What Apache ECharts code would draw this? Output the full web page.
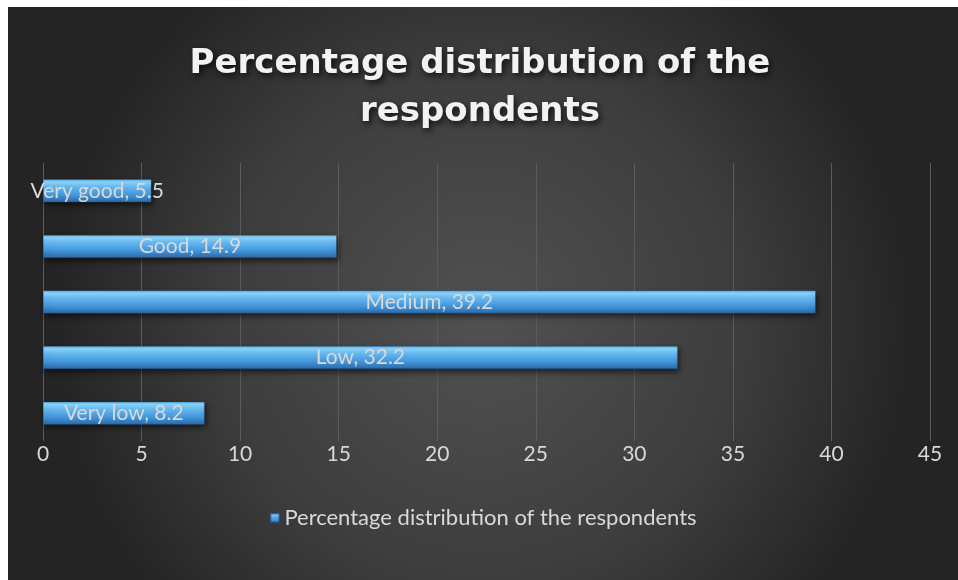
<!DOCTYPE html>
<html>
<head>
<meta charset="utf-8">
<script src="https://cdn.jsdelivr.net/npm/echarts@6/dist/echarts.min.js"></script>
<style>
  html, body { margin: 0; padding: 0; background: #ffffff; width: 958px; height: 580px; overflow: hidden; }
  #chart { position: absolute; left: 8px; top: 7px; width: 950px; height: 573px; }
</style>
</head>
<body>
<div id="chart"></div>
<script>
// Rating categories, listed bottom to top
const categories = ['Very low', 'Low', 'Medium', 'Good', 'Very good'];
// Share of respondents in each category, %
const shares = [8.2, 32.2, 39.2, 14.9, 5.5];
// Value axis ticks
const axisMin = 0;
const axisMax = 45;
const axisStep = 5;

const seriesName = 'Percentage distribution of the respondents';
const titleText = 'Percentage distribution of the\nrespondents';
const textFont = 'Lato, "Open Sans", sans-serif';
const titleFont = '"DejaVu Sans", "Open Sans", sans-serif';

const barFill = {
  type: 'linear', x: 0, y: 0, x2: 0, y2: 1,
  colorStops: [
    { offset: 0, color: '#5aaee8' },
    { offset: 0.12, color: '#8dd6fb' },
    { offset: 0.35, color: '#62b6f0' },
    { offset: 0.7, color: '#4193d8' },
    { offset: 1, color: '#2b68a6' }
  ]
};

const chart = echarts.init(document.getElementById('chart'));
const chartWidth = chart.getWidth();

chart.setOption({
  backgroundColor: {
    type: 'radial', x: 0.5, y: 0.55, r: 0.75,
    colorStops: [
      { offset: 0, color: '#515151' },
      { offset: 0.6, color: '#3d3d3d' },
      { offset: 1, color: '#242424' }
    ]
  },
  graphic: [{
    type: 'text',
    x: chartWidth / 2 - 3,
    y: 33,
    style: {
      text: titleText,
      align: 'center',
      verticalAlign: 'top',
      fontFamily: titleFont,
      fontWeight: 'bold',
      fontSize: 34,
      lineHeight: 48,
      fill: '#f2f2f2',
      textShadowColor: 'rgba(0,0,0,0.75)',
      textShadowBlur: 6,
      textShadowOffsetX: 2,
      textShadowOffsetY: 3
    }
  }],
  legend: {
    bottom: 46,
    left: 'center',
    icon: 'rect',
    itemWidth: 9,
    itemHeight: 9,
    itemGap: 6,
    textStyle: { fontFamily: textFont, fontSize: 22, color: '#d9d9d9' },
    data: [{ name: seriesName, itemStyle: { color: barFill } }]
  },
  grid: { left: 35, right: 28, top: 156, bottom: 139 },
  xAxis: {
    type: 'value',
    min: axisMin,
    max: axisMax,
    interval: axisStep,
    axisLine: { show: false },
    axisTick: { show: false },
    axisLabel: { fontFamily: textFont, fontSize: 21, color: '#d9d9d9', margin: 3 },
    splitLine: { show: true, lineStyle: { color: '#5c5c5c', width: 1 } }
  },
  yAxis: {
    type: 'category',
    data: categories,
    axisLine: { show: false },
    axisTick: { show: false },
    axisLabel: { show: false }
  },
  series: [{
    name: seriesName,
    type: 'bar',
    data: shares,
    barWidth: 23,
    itemStyle: {
      color: barFill,
      borderColor: 'rgba(30,70,120,0.6)',
      borderWidth: 0.5,
      shadowColor: 'rgba(0,0,0,0.6)',
      shadowBlur: 6,
      shadowOffsetX: 2,
      shadowOffsetY: 3
    },
    label: {
      show: true,
      position: 'inside',
      formatter: '{b}, {c}',
      fontFamily: textFont,
      fontSize: 21,
      color: '#d9d9d9'
    }
  }]
});
</script>
</body>
</html>
